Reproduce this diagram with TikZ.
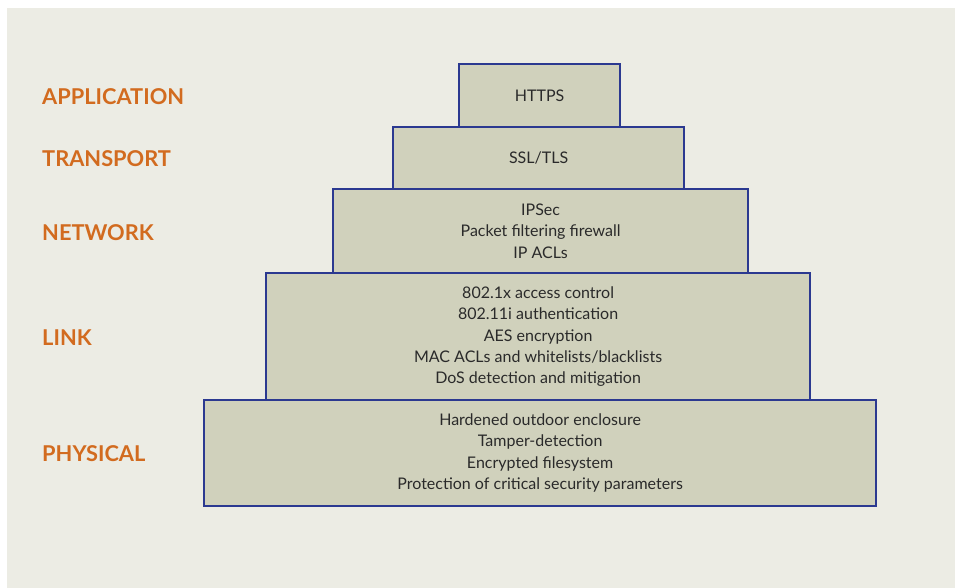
\documentclass[tikz,border=0pt]{standalone}
\usepackage{fontspec}
\setmainfont{Lato}
\definecolor{bgc}{HTML}{ECECE4}
\definecolor{boxfill}{HTML}{D0D1BC}
\definecolor{boxline}{HTML}{2B3990}
\definecolor{lab}{HTML}{D26B1F}
\definecolor{txt}{HTML}{2A2A2A}
\begin{document}
\begin{tikzpicture}[x=1pt,y=1pt,
  layer/.style={draw=boxline, fill=boxfill, line width=2.2pt, anchor=north west,
    inner sep=0pt, align=center, text=txt, font=\fontsize{16}{21.3}\selectfont},
  lyr/.style={anchor=west, text=lab, inner sep=0pt, font=\fontsize{21.8}{24}\selectfont\bfseries}]
\useasboundingbox (0,0) rectangle (955,-588);
\fill[white] (0,0) rectangle (955,-588);
\fill[bgc] (7,-8) rectangle (955,-588);
\node[layer, minimum width=672, minimum height=106] (phy) at (203,-399)
  {Hardened outdoor enclosure\\Tamper-detection\\Encrypted filesystem\\Protection of critical security parameters};
\node[layer, minimum width=544, minimum height=127] (lnk) at (265,-272)
  {802.1x access control\\802.11i authentication\\AES encryption\\MAC ACLs and whitelists/blacklists\\DoS detection and mitigation};
\node[layer, minimum width=415, minimum height=84] (net) at (332,-188)
  {IPSec\\Packet filtering firewall\\IP ACLs};
\node[layer, minimum width=291, minimum height=62] (tra) at (392,-126) {SSL/TLS};
\node[layer, minimum width=161, minimum height=63] (app) at (458,-63) {HTTPS};
\node[lyr] (lapp) at (42,-97) {APPLICATION};
\node[lyr] (ltra) at (42,-159) {TRANSPORT};
\node[lyr] (lnet) at (42,-233) {NETWORK};
\node[lyr] (llnk) at (42,-338) {LINK};
\node[lyr] (lphy) at (42,-454) {PHYSICAL};
\end{tikzpicture}
\end{document}
